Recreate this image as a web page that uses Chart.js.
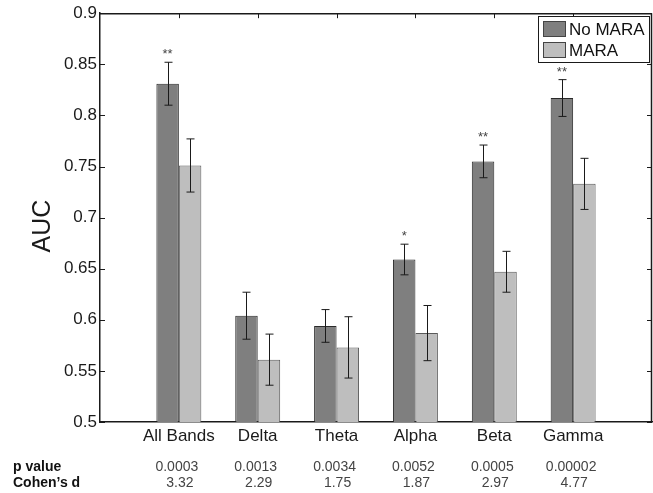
<!DOCTYPE html>
<html>
<head>
<meta charset="utf-8">
<script src="https://cdn.jsdelivr.net/npm/chart.js@4"></script>
<style>
  html, body { margin: 0; padding: 0; background: #fff; }
  #wrap { width: 653px; height: 493px; position: relative; }
</style>
</head>
<body>
<div id="wrap"><canvas id="auc"></canvas></div>
<script>
// dados
const categories = ['All Bands', 'Delta', 'Theta', 'Alpha', 'Beta', 'Gamma'];
const noMara = [0.831, 0.604, 0.594, 0.659, 0.755, 0.817];
const noMaraErr = [0.021, 0.023, 0.016, 0.015, 0.016, 0.018];
const mara = [0.751, 0.561, 0.573, 0.587, 0.647, 0.733];
const maraErr = [0.026, 0.025, 0.030, 0.027, 0.020, 0.025];
const stars = ['**', '', '', '*', '**', '**'];
const pValues = ['0.0003', '0.0013', '0.0034', '0.0052', '0.0005', '0.00002'];
const cohensD = ['3.32', '2.29', '1.75', '1.87', '2.97', '4.77'];
const yTicks = [0.5, 0.55, 0.6, 0.65, 0.7, 0.75, 0.8, 0.85, 0.9];

const FONT = '"Liberation Sans", Arial, Helvetica, sans-serif';
const darkFill = '#7f7f7f';
const lightFill = '#bebebe';
const axisColor = '#1a1a1a';

// um espaço vazio em cada ponta, como no original
const labels = [''].concat(categories, ['']);
const pad = arr => [null].concat(arr, [null]);

// desenha caixa, ticks internos, barras de erro, estrelas, legenda e tabela
const extras = {
    id: 'extras',
    afterDatasetsDraw(chart) {
        const ctx = chart.ctx;
        const a = chart.chartArea;
        const xs = chart.scales.x;
        const ys = chart.scales.y;
        ctx.save();

        // barras de erro
        ctx.strokeStyle = '#1a1a1a';
        ctx.lineWidth = 1;
        [noMaraErr, maraErr].forEach((errs, d) => {
            const meta = chart.getDatasetMeta(d);
            const vals = d === 0 ? noMara : mara;
            errs.forEach((e, i) => {
                const bar = meta.data[i + 1];
                const x = Math.round(bar.x) + 0.5;
                const yt = ys.getPixelForValue(vals[i] + e);
                const yb = ys.getPixelForValue(vals[i] - e);
                ctx.beginPath();
                ctx.moveTo(x, yt); ctx.lineTo(x, yb);
                ctx.moveTo(x - 4, yt); ctx.lineTo(x + 4, yt);
                ctx.moveTo(x - 4, yb); ctx.lineTo(x + 4, yb);
                ctx.stroke();
            });
        });

        // estrelas de significância
        ctx.fillStyle = '#444';
        ctx.font = '13px ' + FONT;
        ctx.textAlign = 'center';
        ctx.textBaseline = 'alphabetic';
        const meta0 = chart.getDatasetMeta(0);
        stars.forEach((s, i) => {
            if (!s) return;
            const x = meta0.data[i + 1].x;
            const y = ys.getPixelForValue(noMara[i] + noMaraErr[i]) - 4;
            ctx.fillText(s, x, y);
        });

        // caixa do eixo (topo e direita)
        ctx.strokeStyle = axisColor;
        ctx.lineWidth = 1.5;
        ctx.beginPath();
        ctx.moveTo(a.left, a.top + 0.5); ctx.lineTo(a.right, a.top + 0.5);
        ctx.moveTo(a.right - 0.5, a.top); ctx.lineTo(a.right - 0.5, a.bottom);
        ctx.stroke();

        // ticks internos
        ctx.lineWidth = 1;
        ctx.beginPath();
        yTicks.forEach(v => {
            const y = Math.round(ys.getPixelForValue(v)) + 0.5;
            ctx.moveTo(a.left, y); ctx.lineTo(a.left + 5, y);
            ctx.moveTo(a.right, y); ctx.lineTo(a.right - 5, y);
        });
        categories.forEach((c, i) => {
            const x = Math.round(xs.getPixelForValue(i + 1)) + 0.5;
            ctx.moveTo(x, a.top); ctx.lineTo(x, a.top + 5);
        });
        ctx.stroke();

        // rótulos das categorias
        ctx.fillStyle = '#1a1a1a';
        ctx.font = '17px ' + FONT;
        ctx.textAlign = 'center';
        ctx.textBaseline = 'middle';
        categories.forEach((c, i) => {
            ctx.fillText(c, xs.getPixelForValue(i + 1), a.bottom + 14);
        });

        // título do eixo y
        ctx.save();
        ctx.translate(43, 226);
        ctx.rotate(-Math.PI / 2);
        ctx.fillStyle = '#1a1a1a';
        ctx.font = '25px ' + FONT;
        ctx.textAlign = 'center';
        ctx.textBaseline = 'middle';
        ctx.fillText('AUC', 0, 0);
        ctx.restore();

        // legenda
        const lx = 538, ly = 16, lw = 111, lh = 46;
        ctx.fillStyle = '#fff';
        ctx.fillRect(lx, ly, lw, lh);
        ctx.lineWidth = 1;
        ctx.strokeStyle = '#1a1a1a';
        ctx.strokeRect(lx + 0.5, ly + 0.5, lw, lh);
        const items = [['No MARA', darkFill], ['MARA', lightFill]];
        ctx.font = '17px ' + FONT;
        ctx.textAlign = 'left';
        ctx.textBaseline = 'middle';
        items.forEach((it, k) => {
            const sy = ly + 5 + k * 21;
            ctx.fillStyle = it[1];
            ctx.fillRect(lx + 5, sy, 23, 16);
            ctx.strokeStyle = '#444';
            ctx.strokeRect(lx + 5.5, sy + 0.5, 22, 15);
            ctx.fillStyle = '#111';
            ctx.fillText(it[0], lx + 31, sy + 9);
        });

        // tabela embaixo
        ctx.fillStyle = '#111';
        ctx.font = 'bold 14px ' + FONT;
        ctx.textAlign = 'left';
        ctx.textBaseline = 'alphabetic';
        ctx.fillText('p value', 13, 471);
        ctx.fillText('Cohen\u2019s d', 13, 487);
        ctx.fillStyle = '#444';
        ctx.font = '14px ' + FONT;
        ctx.textAlign = 'center';
        categories.forEach((c, i) => {
            const x = xs.getPixelForValue(i + 1);
            ctx.fillText(pValues[i], x - 2, 471);
            ctx.fillText(cohensD[i], x + 1, 487);
        });

        ctx.restore();
    }
};

const ctx = document.getElementById('auc').getContext('2d');
new Chart(ctx, {
    type: 'bar',
    data: {
        labels: labels,
        datasets: [
            {
                label: 'No MARA',
                data: pad(noMara),
                backgroundColor: darkFill,
                borderColor: '#2a2a2a',
                borderWidth: 1,
                borderSkipped: 'bottom'
            },
            {
                label: 'MARA',
                data: pad(mara),
                backgroundColor: lightFill,
                borderColor: '#5a5a5a',
                borderWidth: 1,
                borderSkipped: 'bottom'
            }
        ]
    },
    options: {
        responsive: true,
        maintainAspectRatio: false,
        animation: false,
        categoryPercentage: 0.57,
        barPercentage: 1,
        layout: { padding: { top: 13, right: 1, left: 0, bottom: 0 } },
        plugins: {
            legend: { display: false },
            tooltip: { enabled: false }
        },
        scales: {
            x: {
                offset: false,
                grid: { display: false, drawTicks: false },
                border: { display: true, color: axisColor, width: 1.5 },
                ticks: { display: false, padding: 0 },
                afterFit: s => { s.height = 71; }
            },
            y: {
                min: 0.5,
                max: 0.9,
                grid: { display: false, drawTicks: false },
                border: { display: true, color: axisColor, width: 1.5 },
                ticks: {
                    stepSize: 0.05,
                    color: '#1a1a1a',
                    font: { family: FONT, size: 17 },
                    padding: 3,
                    callback: v => String(Math.round(v * 100) / 100)
                },
                afterFit: s => { s.width = 100; }
            }
        }
    },
    plugins: [extras]
});
</script>
</body>
</html>
